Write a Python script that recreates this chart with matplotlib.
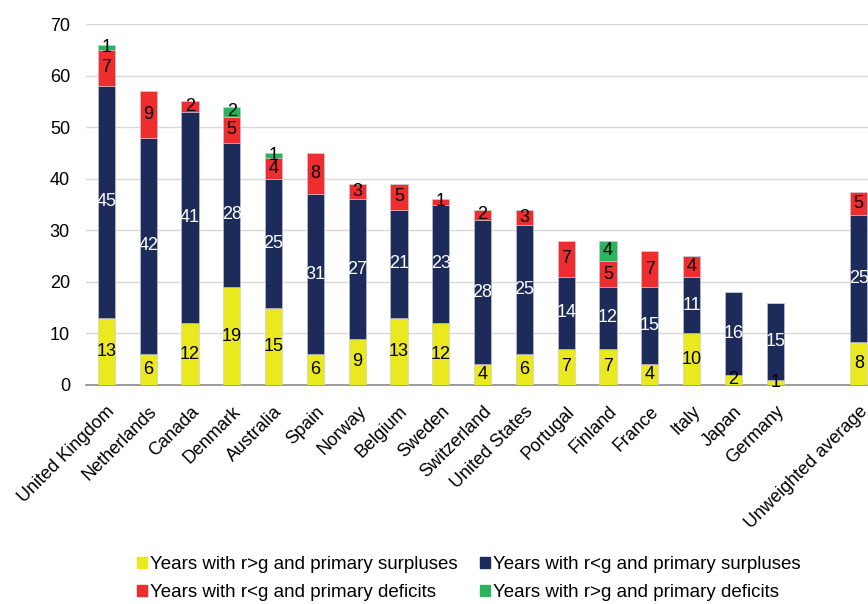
import numpy as np
import matplotlib.pyplot as plt
from matplotlib.patches import Patch

plt.rcParams['font.family'] = ['Liberation Sans', 'DejaVu Sans']

countries = ["United Kingdom", "Netherlands", "Canada", "Denmark", "Australia",
             "Spain", "Norway", "Belgium", "Sweden", "Switzerland",
             "United States", "Portugal", "Finland", "France", "Italy",
             "Japan", "Germany", "", "Unweighted average"]

# years with r>g and primary surpluses
rg_surplus = [13, 6, 12, 19, 15, 6, 9, 13, 12, 4, 6, 7, 7, 4, 10, 2, 1, 0, 8.3]
# years with r<g and primary surpluses
gr_surplus = [45, 42, 41, 28, 25, 31, 27, 21, 23, 28, 25, 14, 12, 15, 11, 16, 15, 0, 24.6]
# years with r<g and primary deficits
gr_deficit = [7, 9, 2, 5, 4, 8, 3, 5, 1, 2, 3, 7, 5, 7, 4, 0, 0, 0, 4.6]
# years with r>g and primary deficits
rg_deficit = [1, 0, 0, 2, 1, 0, 0, 0, 0, 0, 0, 0, 4, 0, 0, 0, 0, 0, 0]

series = [
    (rg_surplus, "#eae81e", "black", "Years with r>g and primary surpluses"),
    (gr_surplus, "#1c2b59", "white", "Years with r<g and primary surpluses"),
    (gr_deficit, "#ee2d2f", "black", "Years with r<g and primary deficits"),
    (rg_deficit, "#2bb35e", "black", "Years with r>g and primary deficits"),
]

fig = plt.figure(figsize=(8.68, 6.04), dpi=100)
ax = fig.add_axes([0.099, 0.3626, 0.901, 0.5974])

x = np.arange(len(countries))
bottom = np.zeros(len(countries))
for vals, color, tcolor, label in series:
    vals = np.array(vals, dtype=float)
    bars = ax.bar(x, vals, 0.41, bottom=bottom, color=color,
                  edgecolor="#c8cbd8", linewidth=0.4, label=label, zorder=3)
    labels = [f"{v:.0f}" if v > 0 else "" for v in vals]
    ax.bar_label(bars, labels=labels, label_type="center", color=tcolor,
                 fontsize=13, zorder=4)
    bottom += vals

ax.set_ylim(0, 70)
ax.set_xlim(-0.49, 18.22)
ax.set_yticks(range(0, 71, 10))
ax.yaxis.grid(True, color="#d9d9d9", linewidth=1)
ax.set_axisbelow(True)
for s in ["top", "right", "left"]:
    ax.spines[s].set_visible(False)
ax.spines["bottom"].set_color("#8c8c8c")
ax.spines["bottom"].set_linewidth(1.2)
ax.tick_params(axis="both", length=0, labelsize=13)
ax.tick_params(axis="y", pad=11.5)
ax.tick_params(axis="x", pad=13)
ax.set_xticks(x)
ax.set_xticklabels(countries, rotation=45, ha="right", rotation_mode="anchor")

handles = [Patch(color=s[1]) for s in series]
names = [s[3] for s in series]
order = [0, 2, 1, 3]
fig.legend([handles[i] for i in order], [names[i] for i in order],
           loc="upper left", bbox_to_anchor=(0.158, 0.0795), ncol=2,
           frameon=False, fontsize=13.5, handlelength=0.53, handleheight=0.53,
           handletextpad=0.16, columnspacing=1.2, labelspacing=0.61,
           borderaxespad=0, borderpad=0)

fig.savefig("out.png", dpi=100)
